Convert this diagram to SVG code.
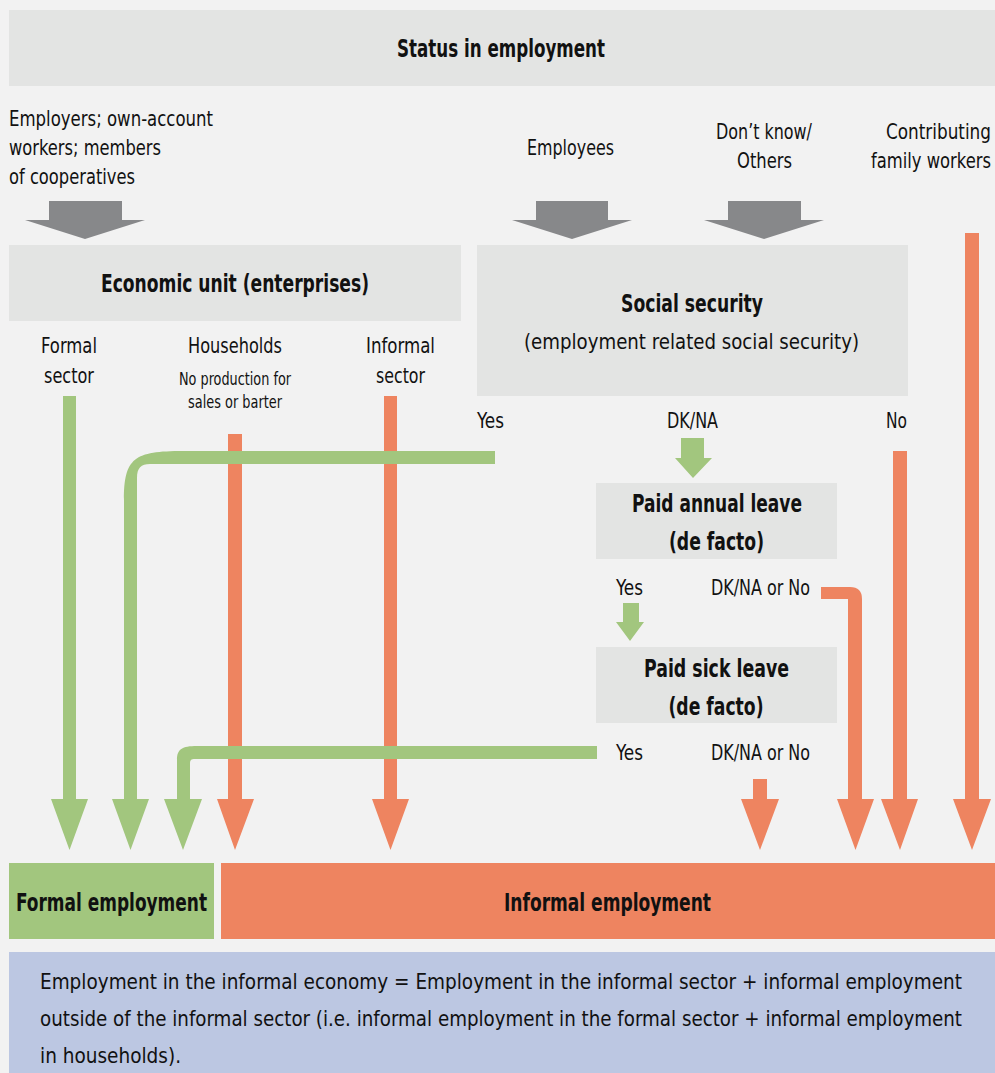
<svg xmlns="http://www.w3.org/2000/svg" width="995" height="1073" viewBox="0 0 995 1073">
<style>
text{font-family:"Liberation Sans Narrow","DejaVu Sans Condensed","Liberation Sans",sans-serif;fill:#111;}
.r{font-size:22px;}
.b{font-size:24px;font-weight:bold;}
.s{font-size:17px;}
.m{text-anchor:middle;}
.e{text-anchor:end;}
.box{fill:#e3e4e3;}
.g{fill:#a2c67e;}
.o{fill:#ee8460;}
.k{fill:#87888a;}
</style>
<rect x="0" y="0" width="995" height="1073" fill="#f2f2f2"/>

<g id="status">
<rect class="box" x="9" y="10" width="986" height="76"/>
<text class="b m" x="501" y="57" textLength="208" lengthAdjust="spacingAndGlyphs">Status in employment</text>
</g>

<g id="cat-employers">
<text class="r" x="9" y="126" textLength="204" lengthAdjust="spacingAndGlyphs">Employers; own-account</text>
<text class="r" x="9" y="155" textLength="152" lengthAdjust="spacingAndGlyphs">workers; members</text>
<text class="r" x="9" y="184" textLength="126" lengthAdjust="spacingAndGlyphs">of cooperatives</text>
</g>
<g id="cat-employees">
<text class="r m" x="570.5" y="155" textLength="87" lengthAdjust="spacingAndGlyphs">Employees</text>
</g>
<g id="cat-dontknow">
<text class="r m" x="764" y="139" textLength="96" lengthAdjust="spacingAndGlyphs">Don’t know/</text>
<text class="r m" x="764.5" y="168" textLength="55" lengthAdjust="spacingAndGlyphs">Others</text>
</g>
<g id="cat-contributing">
<text class="r e" x="991" y="139" textLength="105" lengthAdjust="spacingAndGlyphs">Contributing</text>
<text class="r e" x="991" y="168" textLength="120" lengthAdjust="spacingAndGlyphs">family workers</text>
</g>

<g id="economic-unit">
<rect class="box" x="9" y="245" width="452" height="76"/>
<text class="b m" x="235" y="292" textLength="268" lengthAdjust="spacingAndGlyphs">Economic unit (enterprises)</text>
</g>
<g id="formal-sector">
<text class="r m" x="69" y="353" textLength="56" lengthAdjust="spacingAndGlyphs">Formal</text>
<text class="r m" x="69" y="383" textLength="50" lengthAdjust="spacingAndGlyphs">sector</text>
</g>
<g id="households">
<text class="r m" x="235" y="353" textLength="94" lengthAdjust="spacingAndGlyphs">Households</text>
<text class="s m" x="235" y="385" textLength="112" lengthAdjust="spacingAndGlyphs">No production for</text>
<text class="s m" x="235" y="408" textLength="94" lengthAdjust="spacingAndGlyphs">sales or barter</text>
</g>
<g id="informal-sector">
<text class="r m" x="400.5" y="353" textLength="69" lengthAdjust="spacingAndGlyphs">Informal</text>
<text class="r m" x="400.5" y="383" textLength="49" lengthAdjust="spacingAndGlyphs">sector</text>
</g>

<g id="social-security">
<rect class="box" x="477" y="245" width="431" height="151"/>
<text class="b m" x="692" y="312" textLength="142" lengthAdjust="spacingAndGlyphs">Social security</text>
<text class="r m" x="691.5" y="349" textLength="335" lengthAdjust="spacingAndGlyphs">(employment related social security)</text>
<text class="r" x="477" y="428" textLength="27" lengthAdjust="spacingAndGlyphs">Yes</text>
<text class="r m" x="692.5" y="428" textLength="51" lengthAdjust="spacingAndGlyphs">DK/NA</text>
<text class="r e" x="907" y="428" textLength="21" lengthAdjust="spacingAndGlyphs">No</text>
</g>

<g id="paid-annual-leave">
<rect class="box" x="596" y="483" width="241" height="76"/>
<text class="b m" x="717" y="512" textLength="170" lengthAdjust="spacingAndGlyphs">Paid annual leave</text>
<text class="b m" x="716.5" y="550" textLength="95" lengthAdjust="spacingAndGlyphs">(de facto)</text>
<text class="r m" x="629.5" y="595" textLength="27" lengthAdjust="spacingAndGlyphs">Yes</text>
<text class="r m" x="760.5" y="595" textLength="99" lengthAdjust="spacingAndGlyphs">DK/NA or No</text>
</g>

<g id="paid-sick-leave">
<rect class="box" x="596" y="647" width="241" height="76"/>
<text class="b m" x="716.5" y="677" textLength="145" lengthAdjust="spacingAndGlyphs">Paid sick leave</text>
<text class="b m" x="716" y="715" textLength="95" lengthAdjust="spacingAndGlyphs">(de facto)</text>
<text class="r m" x="629.5" y="760" textLength="27" lengthAdjust="spacingAndGlyphs">Yes</text>
<text class="r m" x="760.5" y="760" textLength="99" lengthAdjust="spacingAndGlyphs">DK/NA or No</text>
</g>

<g id="connectors">
<!-- gray input arrows -->
<path class="k" d="M49 201H122V220H145L85 239L25 220H49Z"/>
<path class="k" d="M536 201H608V220H632L572 239L512 220H536Z"/>
<path class="k" d="M728 201H801V220H824L764 239L704 220H728Z"/>
<!-- orange arrows -->
<path class="o" d="M228 434H242V799H254L235 850L217 799H228Z"/>
<path class="o" d="M384 396H397V799H409L390.5 850L372 799H384Z"/>
<path class="o" d="M893 451H907V799H918L900 850L881 799H893Z"/>
<path class="o" d="M965 233H979V799H991L972 850L953 799H965Z"/>
<path class="o" d="M753 779H767V799H779L760 850L741 799H753Z"/>
<path class="o" d="M821 587H850Q862 587 862 599V799H874L855.5 850L837 799H848V599H821Z"/>
<!-- green arrows -->
<path class="g" d="M63 396H76V799H88L69.5 850L51 799H63Z"/>
<path class="g" d="M495 451V464H150C141 464 137 468 137 478V799H149L130.5 850L112 799H124V500C124 458 134 451 183 451Z"/>
<path class="g" d="M597 746V759H195C191 759 190 760 190 764V799H202L183 850L164 799H177V760C177 749 182 746 197 746Z"/>
<path class="g" d="M681 438H704V458H712L693 478L675 458H681Z"/>
<path class="g" d="M623 603H639V622H644L630 641L616 622H623Z"/>
</g>

<g id="formal-employment">
<rect class="g" x="9" y="863" width="205" height="76"/>
<text class="b m" x="111.5" y="911" textLength="191" lengthAdjust="spacingAndGlyphs">Formal employment</text>
</g>
<g id="informal-employment">
<rect class="o" x="221" y="863" width="774" height="76"/>
<text class="b m" x="607.5" y="911" textLength="207" lengthAdjust="spacingAndGlyphs">Informal employment</text>
</g>

<g id="note">
<rect x="9" y="952" width="986" height="121" fill="#bcc7e2"/>
<text class="r" x="40" y="989" textLength="922" lengthAdjust="spacingAndGlyphs">Employment in the informal economy = Employment in the informal sector + informal employment</text>
<text class="r" x="40" y="1026" textLength="922" lengthAdjust="spacingAndGlyphs">outside of the informal sector (i.e. informal employment in the formal sector + informal employment</text>
<text class="r" x="40" y="1063" textLength="141" lengthAdjust="spacingAndGlyphs">in households).</text>
</g>
</svg>
